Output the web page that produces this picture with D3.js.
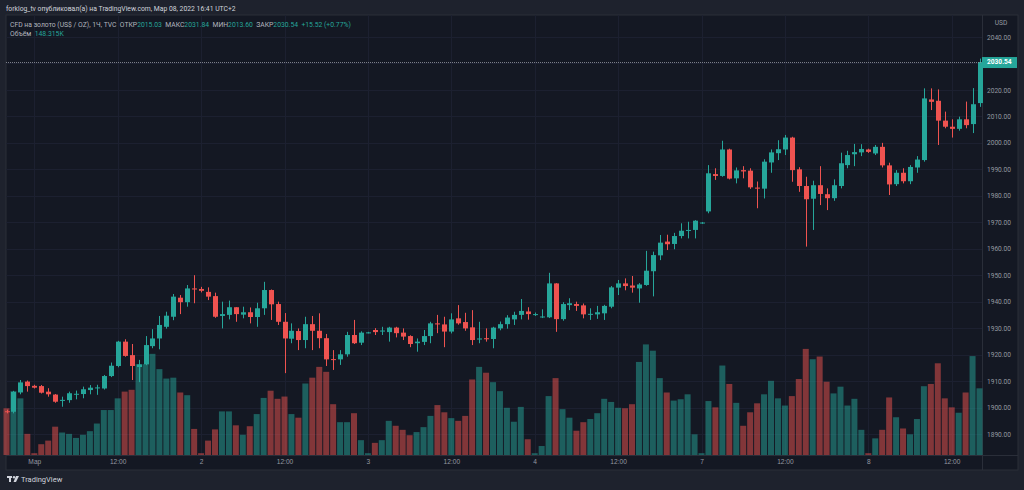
<!DOCTYPE html>
<html><head><meta charset="utf-8">
<script src="https://cdn.jsdelivr.net/npm/d3@7"></script>
<style>
html,body{margin:0;padding:0;background:#1e222d;}
svg{display:block;font-family:Roboto,"Noto Sans",sans-serif;}
</style></head><body>
<svg id="c" width="1024" height="490"></svg>
<script>
const openP = [1898.6,1898.4,1905.7,1909.8,1908.2,1908.1,1906.0,1904.9,1902.5,1902.8,
1905.0,1905.1,1906.6,1907.4,1907.2,1911.9,1915.7,1924.9,1919.8,1915.3,
1916.3,1923.2,1926.1,1930.5,1934.3,1941.5,1939.8,1945.0,1944.8,1943.7,
1942.1,1934.6,1935.0,1937.9,1935.1,1936.0,1934.2,1937.5,1944.4,1939.1,
1932.4,1926.0,1928.9,1925.5,1931.5,1929.0,1926.2,1918.3,1918.2,1920.1,
1927.4,1924.5,1928.2,1929.3,1928.7,1928.5,1930.2,1928.3,1927.0,1924.3,
1924.8,1927.0,1931.8,1931.4,1928.7,1933.7,1932.3,1930.3,1925.7,1926.2,
1925.9,1929.9,1931.5,1933.3,1935.0,1936.3,1935.2,1934.2,1934.1,1946.9,
1933.4,1938.7,1939.1,1938.6,1935.2,1935.2,1935.6,1938.1,1945.3,1946.9,
1946.1,1945.0,1946.3,1951.5,1957.5,1962.7,1961.8,1964.8,1966.8,1967.1,
1969.6,1974.1,1988.2,1987.5,1997.5,1986.6,1989.7,1989.5,1983.1,1982.7,
1992.6,1996.1,1997.5,2002.0,1990.0,1983.7,1978.9,1984.0,1980.6,1979.1,
1983.7,1991.6,1995.7,1996.4,1997.5,1996.0,1998.5,1991.5,1984.4,1988.7,
1985.5,1990.7,1993.5,2016.4,2015.9,2008.4,2006.1,2005.3,2008.9,2007.1,
2015.03];
const highP = [1899.2,1906.3,1910.4,1910.2,1908.6,1908.5,1907.3,1905.1,1904.1,1906.0,
1906.4,1907.9,1908.5,1908.6,1912.3,1917.0,1925.2,1925.8,1924.0,1918.0,
1927.0,1929.6,1934.6,1936.2,1942.9,1942.5,1946.3,1950.0,1945.6,1945.4,
1943.4,1940.0,1940.4,1937.9,1938.1,1937.8,1939.6,1947.5,1944.6,1940.0,
1935.7,1931.8,1929.9,1934.3,1934.6,1935.6,1927.8,1921.7,1921.7,1928.6,
1933.1,1928.8,1928.6,1930.0,1930.5,1930.5,1930.5,1929.9,1927.3,1926.1,
1929.3,1932.4,1935.0,1934.3,1935.6,1938.7,1935.8,1936.8,1932.4,1929.9,
1930.5,1932.5,1934.9,1936.2,1941.0,1937.9,1935.9,1937.1,1950.9,1947.0,
1939.8,1941.3,1940.0,1939.3,1937.5,1938.4,1938.8,1945.9,1948.2,1948.8,
1949.7,1947.0,1959.2,1958.9,1965.2,1965.3,1966.0,1969.6,1970.2,1970.8,
1970.1,1991.6,1990.4,2000.8,1997.8,1990.7,1991.2,1990.4,1985.4,1993.8,
1997.5,2001.0,2003.0,2002.3,1990.8,1987.2,1985.7,1991.2,1982.8,1986.2,
1996.3,1997.0,1999.6,1999.5,1997.8,1999.2,2000.0,1992.5,1989.7,1990.4,
1991.6,1995.0,2020.6,2020.6,2020.2,2011.8,2008.9,2009.9,2015.6,2020.7,
2031.84];
const lowP = [1897.8,1897.8,1905.0,1906.0,1907.2,1905.3,1904.1,1901.8,1900.3,1901.8,
1903.1,1903.5,1905.0,1904.8,1906.8,1911.5,1915.2,1919.2,1910.4,1909.6,
1916.0,1922.4,1922.0,1929.8,1933.0,1935.3,1938.1,1939.4,1943.5,1940.6,
1933.9,1929.9,1933.3,1932.4,1933.7,1931.8,1930.5,1935.0,1933.1,1931.2,
1913.0,1924.3,1921.7,1922.4,1921.7,1922.4,1915.7,1914.2,1916.1,1919.2,
1924.0,1923.6,1928.0,1927.4,1927.4,1924.9,1926.5,1925.5,1922.8,1921.1,
1923.6,1924.3,1928.1,1922.8,1928.0,1931.3,1929.0,1923.6,1924.3,1924.9,
1922.4,1929.2,1929.8,1931.2,1933.3,1933.2,1934.6,1933.8,1933.8,1928.6,
1932.8,1936.8,1936.5,1933.7,1933.1,1933.5,1933.1,1937.5,1942.5,1944.3,
1943.4,1939.6,1946.0,1942.0,1955.7,1959.5,1959.8,1963.9,1963.9,1963.9,
1969.4,1973.4,1986.0,1987.2,1986.2,1984.7,1986.6,1982.6,1975.3,1979.0,
1988.7,1993.5,1995.4,1985.3,1981.5,1960.8,1967.1,1976.5,1974.6,1978.1,
1982.8,1990.4,1991.2,1995.0,1996.2,1995.4,1990.7,1980.3,1983.7,1984.7,
1984.4,1988.7,1992.9,2012.4,1999.2,2005.5,2002.0,2004.6,2005.5,2003.7,
2013.60];
const closeP = [1898.3,1905.9,1909.5,1908.1,1907.5,1905.6,1905.0,1902.2,1902.9,1905.4,
1905.2,1906.9,1907.5,1907.6,1911.9,1915.8,1924.9,1919.5,1915.7,1916.3,
1923.6,1926.1,1931.2,1934.7,1941.9,1939.8,1945.0,1944.6,1944.1,1941.9,
1934.3,1935.3,1937.9,1935.3,1936.0,1934.2,1937.5,1944.4,1939.0,1932.4,
1926.1,1929.0,1925.5,1931.5,1929.0,1926.2,1918.2,1918.0,1920.1,1927.4,
1924.3,1928.3,1928.4,1928.5,1929.1,1930.2,1928.1,1926.8,1924.0,1924.9,
1927.0,1931.8,1931.4,1928.7,1933.3,1931.8,1929.9,1925.5,1926.1,1925.8,
1930.2,1931.5,1934.0,1935.0,1936.5,1935.3,1935.3,1934.4,1946.9,1933.4,
1939.1,1939.4,1938.4,1935.2,1935.4,1936.0,1938.4,1945.4,1946.9,1945.9,
1945.3,1946.5,1951.7,1957.6,1962.3,1961.7,1964.8,1966.8,1967.1,1970.6,
1969.9,1988.5,1987.5,1997.5,1986.5,1989.6,1989.2,1983.2,1982.7,1992.9,
1996.4,1997.6,2002.0,1989.7,1983.7,1978.7,1984.0,1980.7,1979.1,1984.0,
1992.3,1995.4,1996.5,1997.7,1996.6,1998.5,1991.5,1984.3,1988.7,1985.5,
1990.9,1993.7,2016.8,2015.5,2008.4,2006.1,2005.3,2008.9,2006.7,2014.6,
2030.54];
const volumeK = [104,142,126,47,4,24,32,63,50,47,
38,45,53,70,100,100,126,141,145,202,
202,225,191,170,172,139,133,58,4,32,
57,97,97,66,45,64,91,127,143,125,
130,91,83,159,172,196,185,113,73,73,
93,33,4,27,33,76,65,56,44,51,
62,87,111,95,82,76,87,168,196,183,
162,142,105,74,107,35,4,20,131,171,
102,83,54,73,80,93,125,118,105,104,
113,207,246,232,171,139,121,124,135,46,
4,120,106,199,158,116,65,95,115,135,
165,126,110,131,169,236,213,219,163,137,
152,110,125,56,4,37,56,128,84,59,
46,80,153,158,204,126,106,94,139,220,
148.315];
const timeTickIdx = [4,16,28,40,52,64,76,88,100,112,124,136];
const timeTickLabels = ["Мар","12:00","2","12:00","3","12:00","4","12:00","7","12:00","8","12:00"];
const priceTicks = [1890,1900,1910,1920,1930,1940,1950,1960,1970,1980,1990,2000,2010,2020,2040];
const lastPrice = 2030.54;
const changeAbs = 15.52;
const changePct = 0.77;

const UP = "#26a69a", DOWN = "#ef5350";
const svg = d3.select("#c");
const n = closeP.length;
const data = d3.range(n).map(i => ({i, o:openP[i], h:highP[i], l:lowP[i], c:closeP[i], v:volumeK[i]}));

const plotL = 6, plotR = 982, plotT = 15, axisTop = 455, panelB = 470, panelR = 1018;
const x = d3.scaleLinear().domain([0, n-1]).range([6.5, 979.5]);
const y = d3.scaleLinear().domain([1890, 2040]).range([434, 37]);
const yv = d3.scaleLinear().domain([0, 250]).range([axisTop, axisTop - 112.4]);

svg.append("rect").attr("x",0).attr("y",0).attr("width",1024).attr("height",490).attr("fill","#1e222d");
svg.append("rect").attr("x",plotL).attr("y",plotT).attr("width",panelR-plotL).attr("height",panelB-plotT)
  .attr("fill","#141823").attr("stroke","#2a2e39").attr("stroke-width",1);

const grid = svg.append("g");
grid.selectAll("line.h").data(priceTicks.concat([2030])).join("line")
  .attr("x1",plotL).attr("x2",plotR).attr("y1",d=>Math.round(y(d))+0.5).attr("y2",d=>Math.round(y(d))+0.5)
  .attr("stroke","#1c2030");
grid.selectAll("line.v").data(timeTickIdx).join("line")
  .attr("x1",d=>Math.round(x(d))+0.5).attr("x2",d=>Math.round(x(d))+0.5).attr("y1",plotT).attr("y2",axisTop)
  .attr("stroke","#1c2030");

svg.append("line").attr("x1",plotR+0.5).attr("x2",plotR+0.5).attr("y1",plotT).attr("y2",panelB).attr("stroke","#2a2e39");
svg.append("line").attr("x1",plotL).attr("x2",panelR).attr("y1",axisTop+0.5).attr("y2",axisTop+0.5).attr("stroke","#2a2e39");

svg.append("g").selectAll("rect").data(data).join("rect")
  .attr("x", d=>x(d.i)-3).attr("width",6)
  .attr("y", d=>yv(d.v)).attr("height", d=>axisTop - yv(d.v))
  .attr("fill", d=> d.c>=d.o ? UP : DOWN).attr("fill-opacity",0.5);

const cg = svg.append("g");
cg.selectAll("line").data(data).join("line")
  .attr("x1",d=>Math.round(x(d.i))+0.5).attr("x2",d=>Math.round(x(d.i))+0.5)
  .attr("y1",d=>y(d.h)).attr("y2",d=>y(d.l))
  .attr("stroke",d=> d.c>=d.o ? UP : DOWN).attr("stroke-width",1);
cg.selectAll("rect").data(data).join("rect")
  .attr("x",d=>Math.round(x(d.i))-2).attr("width",5)
  .attr("y",d=>y(Math.max(d.o,d.c)))
  .attr("height",d=>Math.max(1, Math.abs(y(d.o)-y(d.c))))
  .attr("fill",d=> d.c>=d.o ? UP : DOWN);

svg.append("line").attr("x1",plotL).attr("x2",plotR).attr("y1",Math.round(y(lastPrice))+0.5).attr("y2",Math.round(y(lastPrice))+0.5)
  .attr("stroke","#9598a1").attr("stroke-opacity",0.8).attr("stroke-dasharray","1,1");

const pa = svg.append("g").attr("transform",`translate(${plotR+5},0)`)
  .call(d3.axisRight(y).tickValues(priceTicks).tickFormat(d3.format(".2f")).tickSize(0).tickPadding(0));
pa.select(".domain").remove();
pa.selectAll("text").attr("fill","#9598a1").attr("font-size","6.6px").attr("font-family","Roboto, sans-serif");
svg.append("text").attr("x",1001).attr("y",25).attr("text-anchor","middle").attr("fill","#9598a1")
  .attr("font-size","6.6px").text("USD");
const ly = y(lastPrice);
svg.append("rect").attr("x",plotR).attr("y",ly-5).attr("width",panelR-plotR-1).attr("height",11).attr("fill",UP);
svg.append("text").attr("x",plotR+5).attr("y",ly).attr("dy","0.35em").attr("fill","#ffffff")
  .attr("font-size","6.6px").attr("font-weight","bold").text(d3.format(".2f")(lastPrice));

const ta = svg.append("g").attr("transform",`translate(0,${axisTop+3})`)
  .call(d3.axisBottom(x).tickValues(timeTickIdx).tickFormat((d,k)=>timeTickLabels[k]).tickSize(0).tickPadding(0));
ta.select(".domain").remove();
ta.selectAll("text").attr("fill","#9598a1").attr("font-size","6.6px").attr("dy","0.9em");

svg.append("text").attr("x",6).attr("y",10.5).attr("fill","#d1d4dc").attr("font-size","6.8px")
  .text("forklog_tv опубликовал(а) на TradingView.com, Мар 08, 2022 16:41 UTC+2");
const fmt = d3.format(".2f");
const h2 = svg.append("text").attr("x",10).attr("y",26.5).attr("font-size","6.8px").attr("fill","#b2b5be").attr("xml:space","preserve");
h2.append("tspan").text("CFD на золото (US$ / OZ), 1Ч, TVC  ОТКР");
h2.append("tspan").attr("fill",UP).text(fmt(openP[n-1]));
h2.append("tspan").text("  МАКС");
h2.append("tspan").attr("fill",UP).text(fmt(highP[n-1]));
h2.append("tspan").text("  МИН");
h2.append("tspan").attr("fill",UP).text(fmt(lowP[n-1]));
h2.append("tspan").text("  ЗАКР");
h2.append("tspan").attr("fill",UP).text(fmt(lastPrice));
h2.append("tspan").attr("fill",UP).text("  +" + fmt(changeAbs) + " (+" + fmt(changePct) + "%)");
const h3 = svg.append("text").attr("x",10).attr("y",35.5).attr("font-size","6.8px").attr("fill","#b2b5be").attr("xml:space","preserve");
h3.append("tspan").text("Объём  ");
h3.append("tspan").attr("fill",UP).text(volumeK[n-1].toFixed(3)+"K");

const lg = svg.append("g").attr("transform","translate(7,476)").attr("fill","#d1d4dc");
lg.append("rect").attr("x",0).attr("y",0).attr("width",5).attr("height",2);
lg.append("rect").attr("x",2).attr("y",0).attr("width",2).attr("height",6);
lg.append("circle").attr("cx",7).attr("cy",1.2).attr("r",1.2);
lg.append("path").attr("d","M9,0 L12,0 L9,6 L6.5,6 Z");
svg.append("text").attr("x",21).attr("y",482).attr("fill","#d1d4dc").attr("font-size","7.5px").text("TradingView");
</script>
</body></html>
